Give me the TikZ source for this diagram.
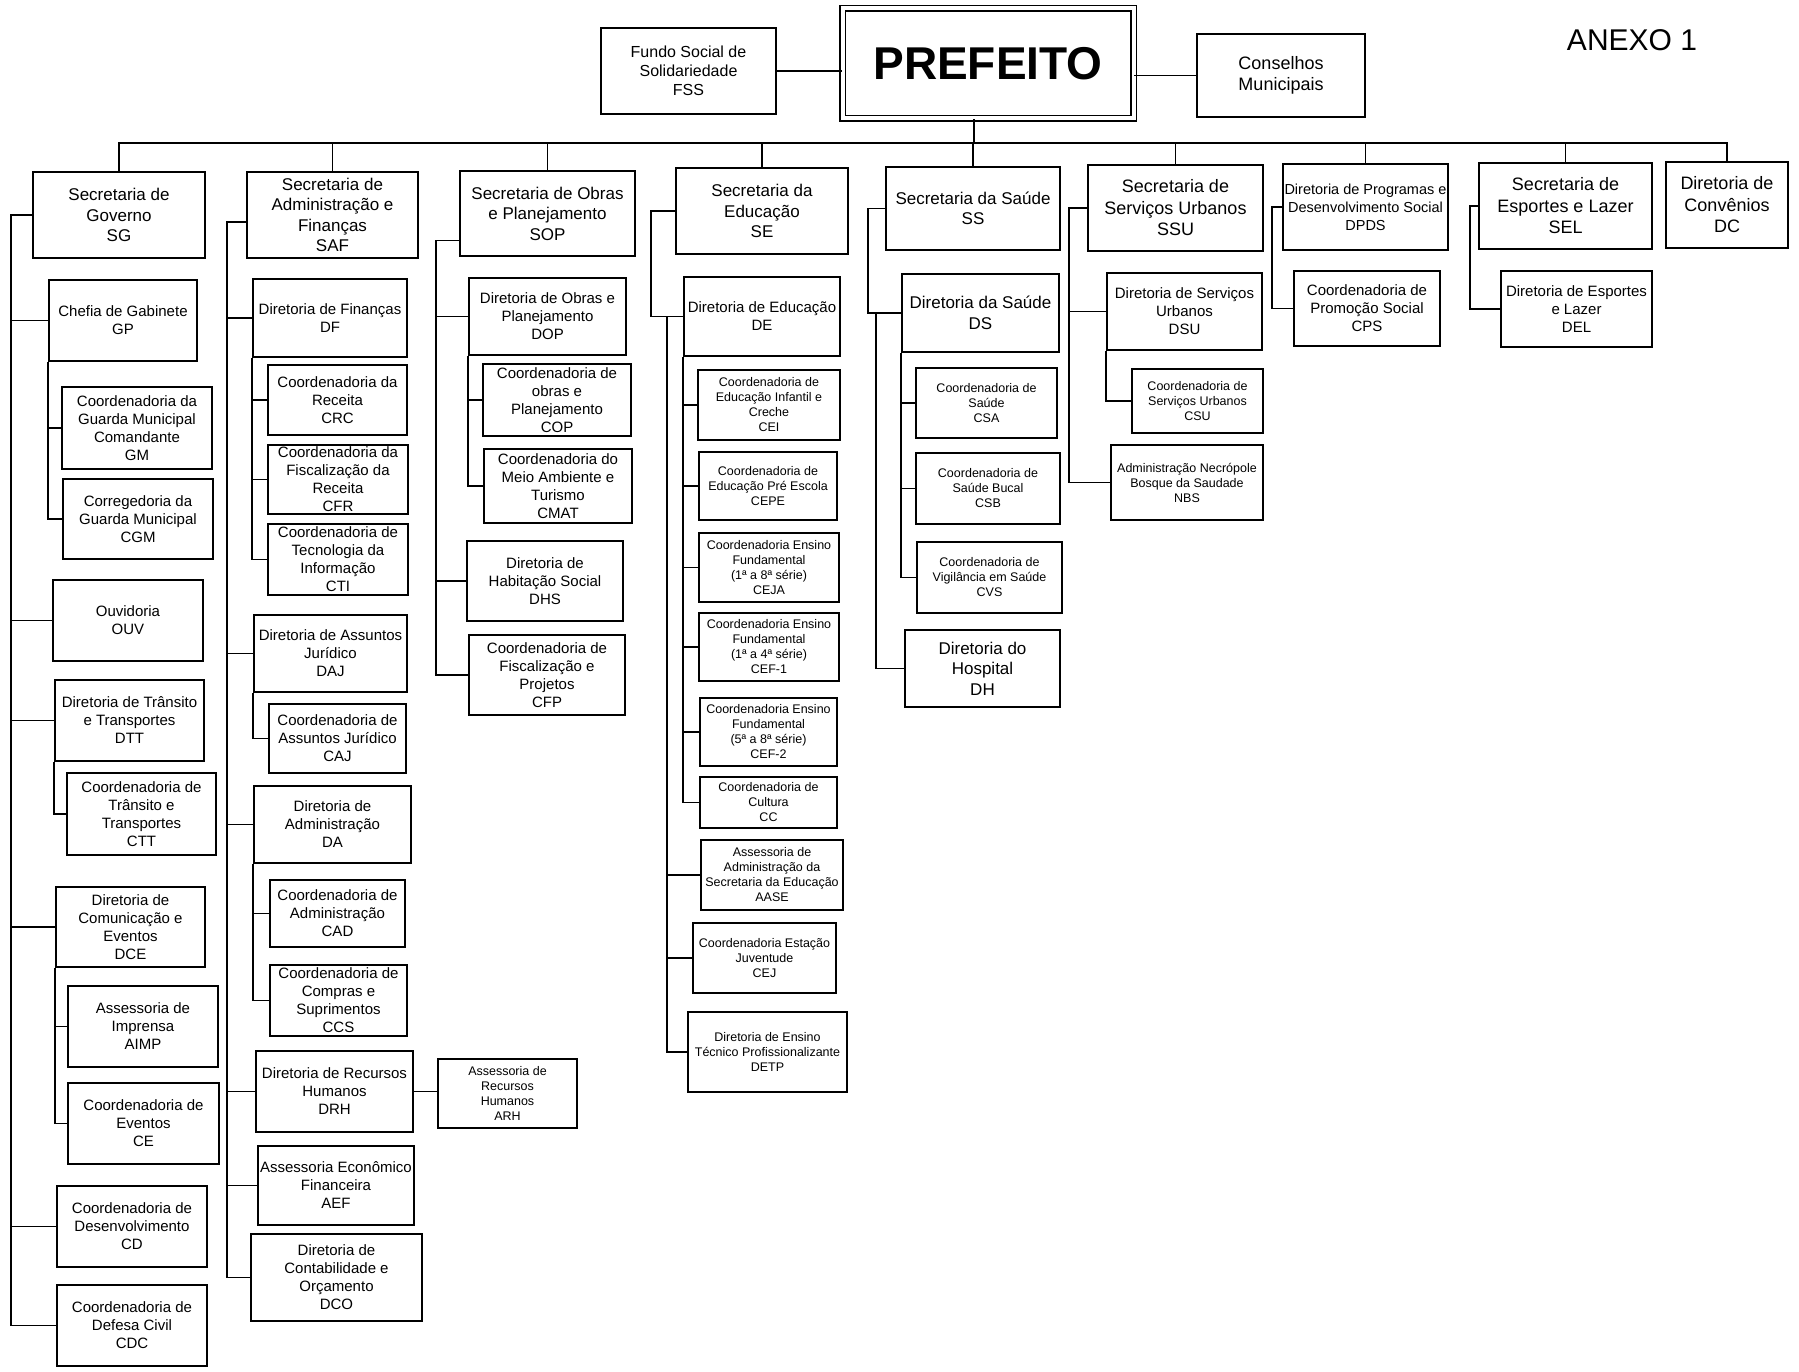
\documentclass[tikz,border=0pt]{standalone}
\usepackage{fontspec}
\setmainfont{Liberation Sans}
\usetikzlibrary{positioning,calc}
\tikzset{
    box/.style={draw=black, line width=2pt, align=center, inner sep=1pt,
        font=\fontsize{15}{18}\selectfont},
    secbox/.style={box, font=\fontsize{17}{20.5}\selectfont},
    smallbox/.style={box, font=\fontsize{12.5}{15}\selectfont},
    boxsize/.style 2 args={minimum width=#1pt, minimum height=#2pt},
    link/.style={draw=black, line width=1.6pt},
}

\begin{document}
\begin{tikzpicture}[x=1pt, y=-1pt]
\useasboundingbox (0,0) rectangle (1799,1372);

%% top
\node[draw=black, double, double distance=4pt, line width=1.5pt, boxsize={291}{110},
    font=\fontsize{46}{50}\selectfont\bfseries] (pref) at (988,63.5) {PREFEITO};
\node[box, boxsize={175}{86}, font=\fontsize{16}{19}\selectfont] (fss) at (688.5,71) {Fundo Social de\\Solidariedade\\FSS};
\node[box, boxsize={168}{83}, font=\fontsize{18}{21.5}\selectfont] (cons) at (1281,75.5) {Conselhos\\Municipais};
\node[font=\fontsize{30}{34}\selectfont] (anexo) at (1632,40) {ANEXO 1};

\draw[link] (fss.east) -- (fss.east -| pref.west);
\draw[link] (cons.west) -- (cons.west -| pref.east);

%% secretarias
\node[secbox, boxsize={172}{86}] (sg) at (119,215) {Secretaria de\\Governo\\SG};
\node[secbox, boxsize={171}{86}] (saf) at (332.5,215) {Secretaria de\\Administração e\\Finanças\\SAF};
\node[secbox, boxsize={175}{85}] (sop) at (547.5,213.5) {Secretaria de Obras\\e Planejamento\\SOP};
\node[secbox, boxsize={172}{86}] (se) at (762,211) {Secretaria da\\Educação\\SE};
\node[secbox, boxsize={174}{83}] (ss) at (973,208.5) {Secretaria da Saúde\\SS};
\node[secbox, boxsize={175}{86}, font=\fontsize{18}{21.5}\selectfont] (ssu) at (1175.5,208) {Secretaria de\\Serviços Urbanos\\SSU};
\node[box, boxsize={165}{86}, font=\fontsize{14.5}{18}\selectfont] (dpds) at (1365.5,207) {Diretoria de Programas e\\Desenvolvimento Social\\DPDS};
\node[secbox, boxsize={173}{86}, font=\fontsize{18}{21.5}\selectfont] (sel) at (1565.5,206) {Secretaria de\\Esportes e Lazer\\SEL};
\node[secbox, boxsize={122}{86}, font=\fontsize{18}{21.5}\selectfont] (dc) at (1727,205) {Diretoria de\\Convênios\\DC};

\coordinate (bus) at (0,143);
\draw[link] (sg.north) -- (sg.north |- bus) -- (dc.north |- bus) -- (dc.north);
\draw[link] ([xshift=-14pt]pref.south) -- ([xshift=-14pt]pref.south |- bus);
\foreach \n in {saf,sop,se,ss,ssu,dpds,sel}
    \draw[link] (\n.north) -- (\n.north |- bus);

%% governo
\node[box, boxsize={148}{81}] (gp) at (123,320.5) {Chefia de Gabinete\\GP};
\node[box, boxsize={150}{82}] (gm) at (137,428) {Coordenadoria da\\Guarda Municipal\\Comandante\\GM};
\node[box, boxsize={150}{80}] (cgm) at (138,519) {Corregedoria da\\Guarda Municipal\\CGM};
\node[box, boxsize={150}{81}] (ouv) at (128,620.5) {Ouvidoria\\OUV};
\node[box, boxsize={149}{81}] (dtt) at (129.5,720.5) {Diretoria de Trânsito\\e Transportes\\DTT};
\node[box, boxsize={149}{82}] (ctt) at (141.5,814) {Coordenadoria de\\Trânsito e\\Transportes\\CTT};
\node[box, boxsize={149}{80}] (dce) at (130.5,927) {Diretoria de\\Comunicação e\\Eventos\\DCE};
\node[box, boxsize={150}{81}] (aimp) at (143,1026.5) {Assessoria de\\Imprensa\\AIMP};
\node[box, boxsize={151}{81}] (ce) at (143.5,1123.5) {Coordenadoria de\\Eventos\\CE};
\node[box, boxsize={150}{81}] (cd) at (132,1226.5) {Coordenadoria de\\Desenvolvimento\\CD};
\node[box, boxsize={150}{81}] (cdc) at (132,1325.5) {Coordenadoria de\\Defesa Civil\\CDC};

\foreach \n in {gp,ouv,dtt,dce,cd,cdc}
    \draw[link] (sg.west) -- ++(-21,0) |- (\n.west);
\foreach \n in {gm,cgm}
    \draw[link] (gp.south west) |- (\n.west);
\draw[link] (dtt.south west) |- (ctt.west);
\foreach \n in {aimp,ce}
    \draw[link] (dce.south west) |- (\n.west);

%% administracao e financas
\node[box, boxsize={154}{78}] (df) at (330,318) {Diretoria de Finanças\\DF};
\node[box, boxsize={139}{70}] (crc) at (337.5,400) {Coordenadoria da\\Receita\\CRC};
\node[box, boxsize={140}{69}] (cfr) at (338,479.5) {Coordenadoria da\\Fiscalização da\\Receita\\CFR};
\node[box, boxsize={140}{71}] (cti) at (338,559.5) {Coordenadoria de\\Tecnologia da\\Informação\\CTI};
\node[box, boxsize={153}{77}] (daj) at (330.5,653.5) {Diretoria de Assuntos\\Jurídico\\DAJ};
\node[box, boxsize={137}{69}] (caj) at (337.5,738.5) {Coordenadoria de\\Assuntos Jurídico\\CAJ};
\node[box, boxsize={157}{77}] (da) at (332.5,824.5) {Diretoria de\\Administração\\DA};
\node[box, boxsize={135}{67}] (cad) at (337.5,913.5) {Coordenadoria de\\Administração\\CAD};
\node[box, boxsize={137}{71}] (ccs) at (338.5,1000.5) {Coordenadoria de\\Compras e\\Suprimentos\\CCS};
\node[box, boxsize={157}{81}] (drh) at (334.5,1091.5) {Diretoria de Recursos\\Humanos\\DRH};
\node[smallbox, boxsize={139}{69}] (arh) at (507.5,1093.5) {Assessoria de\\Recursos\\Humanos\\ARH};
\node[box, boxsize={156}{79}] (aef) at (336,1185.5) {Assessoria Econômico\\Financeira\\AEF};
\node[box, boxsize={171}{87}] (dco) at (336.5,1277.5) {Diretoria de\\Contabilidade e\\Orçamento\\DCO};

\foreach \n in {df,daj,da,drh,aef,dco}
    \draw[link] ([yshift=-7pt]saf.west) -- ++(-19,0) |- (\n.west);
\foreach \n in {crc,cfr,cti}
    \draw[link] (df.south west) |- (\n.west);
\draw[link] (daj.south west) |- (caj.west);
\foreach \n in {cad,ccs}
    \draw[link] (da.south west) |- (\n.west);
\draw[link] (drh.east) -- (drh.east -| arh.west);

%% obras e planejamento
\node[box, boxsize={157}{77}] (dop) at (547.5,316.5) {Diretoria de Obras e\\Planejamento\\DOP};
\node[box, boxsize={148}{72}] (cop) at (557,400) {Coordenadoria de\\obras e\\Planejamento\\COP};
\node[box, boxsize={148}{74}] (cmat) at (558,486) {Coordenadoria do\\Meio Ambiente e\\Turismo\\CMAT};
\node[box, boxsize={156}{80}] (dhs) at (545,581) {Diretoria de\\Habitação Social\\DHS};
\node[box, boxsize={156}{80}] (cfp) at (547,675) {Coordenadoria de\\Fiscalização e\\Projetos\\CFP};

\foreach \n in {dop,dhs,cfp}
    \draw[link] ([yshift=-27pt]sop.west) -- ++(-23,0) |- (\n.west);
\foreach \n in {cop,cmat}
    \draw[link] (dop.south west) |- (\n.west);

%% educacao
\node[box, boxsize={156}{79}] (de) at (762,316.5) {Diretoria de Educação\\DE};
\node[smallbox, boxsize={142}{70}] (cei) at (769,405) {Coordenadoria de\\Educação Infantil e\\Creche\\CEI};
\node[smallbox, boxsize={138}{68}] (cepe) at (768,486) {Coordenadoria de\\Educação Pré Escola\\CEPE};
\node[smallbox, boxsize={140}{69}] (ceja) at (769,567.5) {Coordenadoria Ensino\\Fundamental\\(1ª a 8ª série)\\CEJA};
\node[smallbox, boxsize={140}{68}] (cef1) at (769,647) {Coordenadoria Ensino\\Fundamental\\(1ª a 4ª série)\\CEF-1};
\node[smallbox, boxsize={137}{68}] (cef2) at (768.5,732) {Coordenadoria Ensino\\Fundamental\\(5ª a 8ª série)\\CEF-2};
\node[smallbox, boxsize={137}{51}] (cc) at (768.5,802.5) {Coordenadoria de\\Cultura\\CC};
\node[smallbox, boxsize={142}{70}] (aase) at (772,875) {Assessoria de\\Administração da\\Secretaria da Educação\\AASE};
\node[smallbox, boxsize={143}{70}] (cej) at (764.5,958) {Coordenadoria Estação\\Juventude\\CEJ};
\node[smallbox, boxsize={159}{80}] (detp) at (767.5,1052) {Diretoria de Ensino\\Técnico Profissionalizante\\DETP};

\draw[link] (se.west) -- ++(-24,0) |- (de.west);
\foreach \n in {aase,cej,detp}
    \draw[link] (de.west) ++(-16,0) |- (\n.west);
\foreach \n in {cei,cepe,ceja,cef1,cef2,cc}
    \draw[link] (de.south west) |- (\n.west);

%% saude
\node[secbox, boxsize={157}{78}] (ds) at (980.5,313) {Diretoria da Saúde\\DS};
\node[smallbox, boxsize={141}{70}] (csa) at (986.5,403) {Coordenadoria de\\Saúde\\CSA};
\node[smallbox, boxsize={144}{71}] (csb) at (988,488.5) {Coordenadoria de\\Saúde Bucal\\CSB};
\node[smallbox, boxsize={145}{71}] (cvs) at (989.5,577.5) {Coordenadoria de\\Vigilância em Saúde\\CVS};
\node[secbox, boxsize={155}{77}] (dh) at (982.5,668.5) {Diretoria do\\Hospital\\DH};

\draw[link] (ss.west) -- ++(-17,0) |- (ds.west);
\draw[link] (ds.west) ++(-25,0) |- (dh.west);
\foreach \n in {csa,csb,cvs}
    \draw[link] (ds.south west) |- (\n.west);

%% servicos urbanos
\node[box, boxsize={155}{77}] (dsu) at (1184.5,311.5) {Diretoria de Serviços\\Urbanos\\DSU};
\node[smallbox, boxsize={131}{64}] (csu) at (1197.5,401) {Coordenadoria de\\Serviços Urbanos\\CSU};
\node[smallbox, boxsize={152}{75}] (nbs) at (1187,482.5) {Administração Necrópole\\Bosque da Saudade\\NBS};

\foreach \n in {dsu,nbs}
    \draw[link] (ssu.west) -- ++(-18,0) |- (\n.west);
\draw[link] (dsu.south west) |- (csu.west);

%% programas, esportes
\node[box, boxsize={146}{75}] (cps) at (1367,308.5) {Coordenadoria de\\Promoção Social\\CPS};
\node[box, boxsize={151}{76}] (del) at (1576.5,309) {Diretoria de Esportes\\e Lazer\\DEL};

\draw[link] (dpds.west) -- ++(-10,0) |- (cps.west);
\draw[link] (sel.west) -- ++(-8,0) |- (del.west);
\end{tikzpicture}
\end{document}
